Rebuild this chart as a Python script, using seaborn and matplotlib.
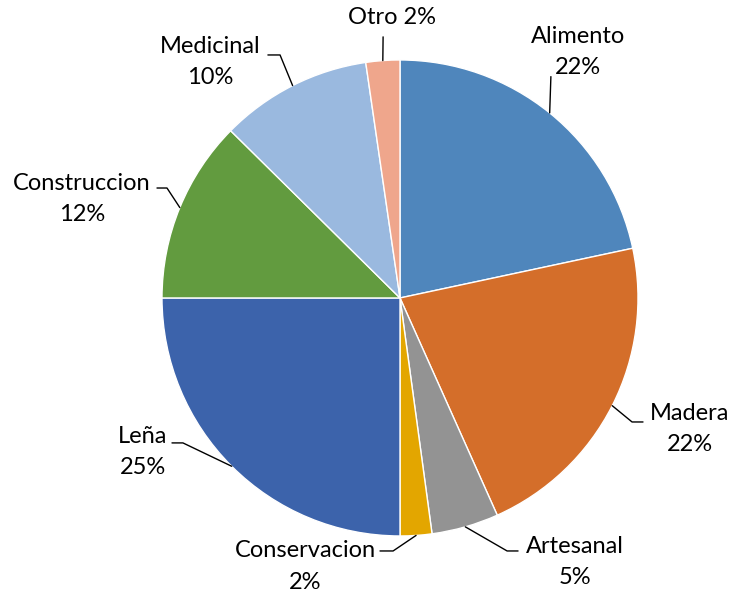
import numpy as np
import matplotlib
matplotlib.use("Agg")
import matplotlib.pyplot as plt
import seaborn as sns

# data (percent of uses)
categories = ["Alimento", "Madera", "Artesanal", "Conservacion",
              "Leña", "Construccion", "Medicinal", "Otro"]
values = [21.65, 21.65, 4.55, 2.15, 25.0, 12.4, 10.3, 2.3]
colors = ["#4F86BC", "#D46E2A", "#939393", "#E3A600",
          "#3C63AB", "#629B3F", "#9AB9DF", "#EFA68C"]

# label placement (data coords, pie radius = 1): text centre and leader elbow points
label_pos = {
    "Alimento": ((0.748, 1.035), [(0.634, 0.930)]),
    "Madera": ((1.218, -0.552), [(0.975, -0.521), (1.021, -0.521)]),
    "Artesanal": ((0.735, -1.108), [(0.450, -1.063), (0.496, -1.063)]),
    "Conservacion": ((-0.399, -1.128), [(-0.029, -1.063), (-0.084, -1.063)]),
    "Leña": ((-1.080, -0.648), [(-0.912, -0.609), (-0.958, -0.609)]),
    "Construccion": ((-1.336, 0.416), [(-0.979, 0.462), (-1.021, 0.462)]),
    "Medicinal": ((-0.798, 0.990), [(-0.504, 1.021), (-0.555, 1.021)]),
    "Otro": ((-0.034, 1.178), [(-0.071, 1.097)]),
}

sns.set_theme(style="white")
plt.rcParams["font.family"] = ["Lato", "DejaVu Sans"]

fig = plt.figure(figsize=(7.33, 5.96), dpi=100)
ax = fig.add_axes([0.2210, 0.1007, 0.6494, 0.7987])

wedges, _ = ax.pie(values, colors=colors, startangle=90, counterclock=False,
                   radius=1.0,
                   wedgeprops=dict(edgecolor="white", linewidth=1.0))

for w, name, val in zip(wedges, categories, values):
    mid = np.deg2rad((w.theta1 + w.theta2) / 2)
    start = (np.cos(mid), np.sin(mid))
    (tx, ty), pts = label_pos[name]
    xs = [start[0]] + [p[0] for p in pts]
    ys = [start[1]] + [p[1] for p in pts]
    ax.plot(xs, ys, color="black", lw=1.0, clip_on=False)
    pct = f"{round(val)}%"
    text = f"{name} {pct}" if name == "Otro" else f"{name}\n{pct}"
    ax.text(tx, ty, text, ha="center", va="center", fontsize=17,
            linespacing=1.6, color="black")

ax.set_xlim(-1, 1)
ax.set_ylim(-1, 1)
ax.set_aspect("equal")
ax.axis("off")

fig.savefig("out.png", dpi=100)
